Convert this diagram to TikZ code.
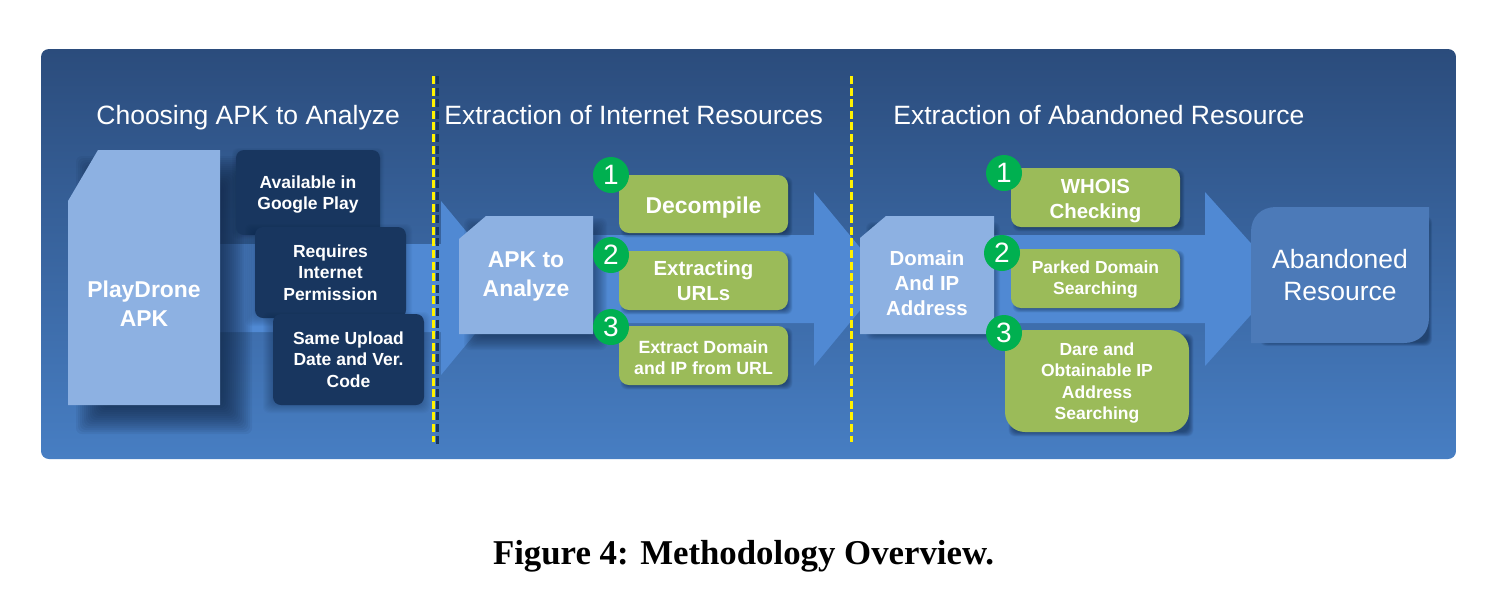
\documentclass[tikz,border=0pt]{standalone}
\usepackage{fontspec}
\setmainfont{Liberation Sans}
\newfontfamily\capfont{Liberation Serif}
\definecolor{paneltop}{HTML}{2B4C7C}
\definecolor{panelbot}{HTML}{477EC3}
\definecolor{arrowblue}{HTML}{5089D3}
\definecolor{lightbox}{HTML}{8DB1E2}
\definecolor{darkbox}{HTML}{18365F}
\definecolor{greenbox}{HTML}{9BBB59}
\definecolor{numgreen}{HTML}{00B050}
\definecolor{resbox}{HTML}{4C7AB8}
\definecolor{shadowc}{HTML}{0F2340}
\tikzset{
  x=0.5pt,y=-0.5pt,
  lab/.style={text=white,align=center,inner sep=0pt,font=\bfseries},
  title/.style={text=white,inner sep=0pt,font=\fontsize{13.25}{16}\selectfont},
  dbox/.style={lab,fill=darkbox,rounded corners=4pt},
  gbox/.style={lab,fill=greenbox,rounded corners=5pt},
  lbox/.style={lab,fill=lightbox},
  num/.style={circle,fill=numgreen,text=white,inner sep=0pt,minimum size=18pt,font=\fontsize{14}{16}\selectfont},
  flow/.style={fill=arrowblue},
  big/.style={font=\bfseries\fontsize{11.45}{14.5}\selectfont},
  midf/.style={font=\bfseries\fontsize{10.2}{12.5}\selectfont},
  small/.style={font=\bfseries\fontsize{8.75}{10.7}\selectfont},
  ysep/.style={draw=yellow,line width=1.6pt,dash pattern=on 4pt off 1.8pt},
}
% soft shadow: x1 y1 x2 y2 blur alpha
\newcommand{\softsh}[6]{%
  \foreach \dd in {-1,-0.875,-0.75,-0.625,-0.5,-0.375,-0.25,-0.125,0,0.125,0.25,0.375,0.5,0.625,0.75,0.875,1}{%
    \fill[shadowc,fill opacity=#6,rounded corners=3pt]
      ({#1-\dd*#5},{#2-\dd*#5}) rectangle ({#3+\dd*#5},{#4+\dd*#5});}%
}
% rounded box node: style name x1 y1 x2 y2 text
\newcommand{\rbox}[7]{%
  \pgfmathsetlengthmacro{\bw}{(#5-#3)*0.5pt}%
  \pgfmathsetlengthmacro{\bh}{(#6-#4)*0.5pt}%
  \node[#1,minimum width=\bw,minimum height=\bh] (#2) at ({(#3+#5)/2},{(#4+#6)/2}) {#7};%
}
\newcommand{\dn}[1]{\rule{0pt}{#1}}
\begin{document}
\begin{tikzpicture}
\useasboundingbox (0,0) rectangle (1511,602);
\fill[white] (0,0) rectangle (1511,602);
% panel
\shade[top color=paneltop,bottom color=panelbot,rounded corners=4pt] (41,49) rectangle (1456,459);

% flow arrows
\fill[flow] (219,244) -- (441,244) -- (441,201) -- (513,288) -- (441,375) -- (441,332) -- (219,332) -- cycle;
\fill[flow] (593,235) -- (814,235) -- (814,192) -- (886,279) -- (814,366) -- (814,323) -- (593,323) -- cycle;
\fill[flow] (994,235) -- (1205,235) -- (1205,192) -- (1283,279) -- (1205,366) -- (1205,323) -- (994,323) -- cycle;

% section separators
\draw[draw=darkbox,line width=1.5pt,dash pattern=on 4pt off 1.8pt] (437,76) -- (437,445);
\draw[ysep] (433.5,76) -- (433.5,442);
\draw[ysep] (851.5,76) -- (851.5,442);

% titles
\node[title,anchor=base west] (t1) at (96,124.5) {Choosing APK to Analyze};
\node[title,anchor=base west] (t2) at (444,124.5) {Extraction of Internet Resources};
\node[title,anchor=base west] (t3) at (893,124.5) {Extraction of Abandoned Resource};

% PlayDrone
\softsh{92}{172}{236}{418}{16}{0.07}
\fill[lightbox] (98,150) -- (220,150) -- (220,405) -- (68,405) -- (68,201) -- cycle;
\node[lab,big] (play) at (144,304) {PlayDrone\\APK};

% criteria
\softsh{238}{154}{378}{233}{6}{0.03}
\rbox{dbox,small}{c1}{236}{150}{380}{235}{\dn{8.4pt}Available in\\Google Play}
\softsh{253}{232}{404}{318}{8}{0.035}
\rbox{dbox,small}{c2}{255}{227}{406}{318}{Requires\\Internet\\Permission}
\softsh{271}{320}{422}{405}{8}{0.035}
\rbox{dbox,small}{c3}{273}{314}{424}{405}{Same Upload\\Date and Ver.\\Code}

% APK to analyze
\softsh{474}{228}{597}{340}{10}{0.055}
\fill[lightbox] (486,216) -- (593,216) -- (593,334) -- (459,334) -- (459,239) -- cycle;
\node[lab,big] (apk) at (526,276) {APK to\\Analyze};

\softsh{623}{179}{790}{235}{2.5}{0.04}
\rbox{gbox,big}{e1}{619}{175}{788}{233}{\dn{12.2pt}Decompile}
\softsh{623}{255}{790}{312}{2.5}{0.04}
\rbox{gbox,midf}{e2}{619}{251}{788}{310}{Extracting\\URLs}
\softsh{623}{330}{790}{387}{2.5}{0.04}
\rbox{gbox,font=\bfseries\fontsize{8.85}{10.7}\selectfont}{e3}{619}{326}{788}{385}{\dn{8.4pt}Extract Domain\\and IP from URL}
\node[num] (n1) at (611,175) {1};
\node[num] (n2) at (611,255) {2};
\node[num] (n3) at (611,327) {3};

% domain
\softsh{870}{226}{996}{336}{4}{0.035}
\fill[lightbox] (886,216) -- (994,216) -- (994,334) -- (860,334) -- (860,238) -- cycle;
\node[lab,midf] (dom) at (927,283) {Domain\\And IP\\Address};

\softsh{1015}{172}{1182}{229}{2.5}{0.04}
\rbox{gbox,midf}{a1}{1011}{168}{1180}{227}{\dn{10.3pt}WHOIS\\Checking}
\softsh{1015}{253}{1182}{310}{2.5}{0.04}
\rbox{gbox,small}{a2}{1011}{249}{1180}{308}{\dn{7.4pt}Parked Domain\\Searching}
\softsh{1011}{336}{1191}{434}{2.5}{0.04}
\rbox{lab,small,fill=greenbox,rounded corners=10pt}{a3}{1005}{330}{1189}{432}{\dn{8.4pt}Dare and\\Obtainable IP\\Address\\Searching}
\node[num] (m1) at (1004,173) {1};
\node[num] (m2) at (1002,253) {2};
\node[num] (m3) at (1004,333) {3};

% abandoned resource
\softsh{1262}{218}{1430}{344}{2}{0.04}
\fill[resbox] (1276,207) -- (1429,207) -- (1429,318) .. controls (1429,333) and (1419,343) .. (1404,343) -- (1251,343) -- (1251,232) .. controls (1251,217) and (1261,207) .. (1276,207) -- cycle;
\node[text=white,align=center,inner sep=0pt,font=\fontsize{13.25}{16}\selectfont] (res) at (1340,275) {Abandoned\\Resource};

% caption
\node[inner sep=0pt,text=black,font=\capfont\bfseries\fontsize{17.4}{20}\selectfont] (cap) at (743.5,556) {Figure 4: Methodology Overview.};
\end{tikzpicture}
\end{document}
